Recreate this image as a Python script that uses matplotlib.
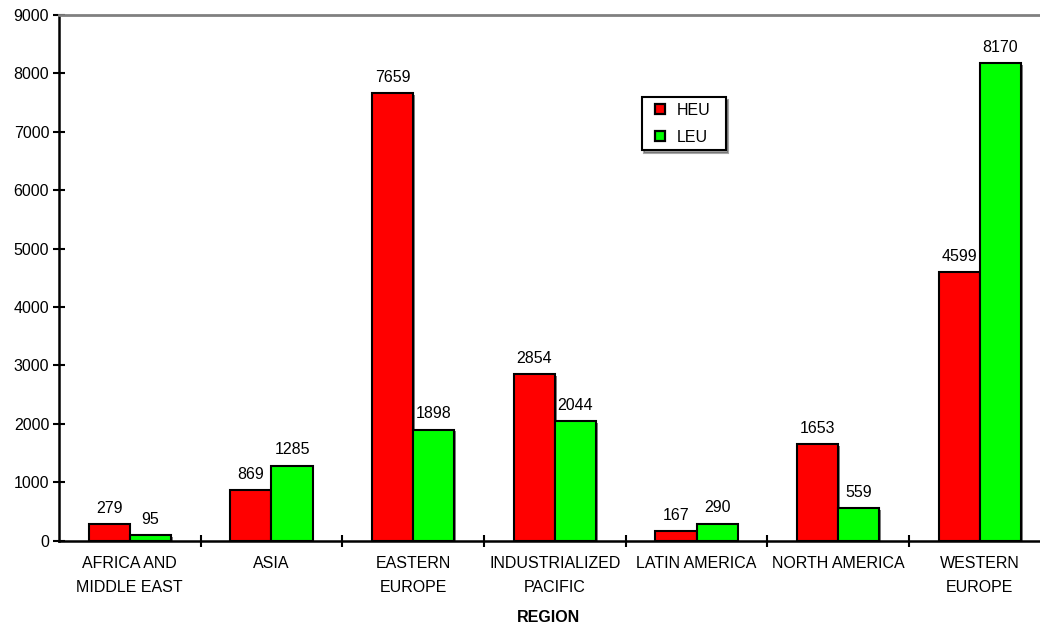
import matplotlib
matplotlib.use("Agg")
import matplotlib.pyplot as plt
import matplotlib.patheffects as pe
from matplotlib.ticker import FixedLocator
from matplotlib.lines import Line2D
import numpy as np

plt.rcParams['font.family'] = ['Liberation Sans', 'DejaVu Sans']

regions = ['AFRICA AND\nMIDDLE EAST', 'ASIA', 'EASTERN\nEUROPE', 'INDUSTRIALIZED\nPACIFIC',
           'LATIN AMERICA', 'NORTH AMERICA', 'WESTERN\nEUROPE']
heu = [279, 869, 7659, 2854, 167, 1653, 4599]
leu = [95, 1285, 1898, 2044, 290, 559, 8170]

fs = 11.5
red = '#ff0000'
green = '#00ff00'

fig = plt.figure(figsize=(10.4, 6.25), dpi=100)
ax = fig.add_axes([0.0567, 0.1349, 0.9536, 0.8411])

x = np.arange(len(regions))
w = 0.29
shadow = [pe.SimplePatchShadow(offset=(1.2, -1.2), shadow_rgbFace='#808080', alpha=1), pe.Normal()]
b1 = ax.bar(x - w / 2, heu, w, color=red, edgecolor='black', linewidth=1.5)
b2 = ax.bar(x + w / 2, leu, w, color=green, edgecolor='black', linewidth=1.5)
for bars in (b1, b2):
    for b in bars:
        b.set_path_effects(shadow)

for xi, v in zip(x - w / 2, heu):
    ax.annotate(str(v), (xi, v), xytext=(0, 6), textcoords='offset points',
                ha='center', va='bottom', fontsize=fs)
for xi, v in zip(x + w / 2, leu):
    ax.annotate(str(v), (xi, v), xytext=(0, 6), textcoords='offset points',
                ha='center', va='bottom', fontsize=fs)

ax.set_xlim(-0.5, len(regions) - 0.5)
ax.set_ylim(0, 9000)
ax.set_yticks(np.arange(0, 9001, 1000))
ax.set_xticks(x)
ax.set_xticklabels(regions, fontsize=fs, linespacing=1.75)
ax.xaxis.set_minor_locator(FixedLocator(np.arange(0.5, len(regions) - 0.5, 1)))
ax.tick_params(axis='x', which='major', length=0, pad=11)
ax.tick_params(axis='x', which='minor', length=9, width=1.5, direction='inout')
ax.tick_params(axis='y', length=8, width=1.5, direction='inout', labelsize=fs, pad=3)

for s in ('left', 'bottom'):
    ax.spines[s].set_linewidth(1.8)
ax.spines['right'].set_visible(False)
ax.spines['top'].set_color('#808080')
ax.spines['top'].set_linewidth(2)

fig.text(548 / 1040, 1 - 617 / 625, 'REGION', ha='center', va='center', fontsize=fs, fontweight='bold')

handles = [Line2D([], [], ls='none', marker='s', ms=6.5, mfc=red, mec='black', mew=1.6),
           Line2D([], [], ls='none', marker='s', ms=6.5, mfc=green, mec='black', mew=1.6)]
leg = ax.legend(handles, ['HEU', 'LEU'], loc='upper left',
                bbox_to_anchor=(641.7 / 1040, 1 - 151 / 625, 84 / 1040, 54 / 625),
                mode='expand', bbox_transform=fig.transFigure, fontsize=fs,
                handlelength=1.6, handletextpad=0.25, borderpad=0.35, labelspacing=0.75,
                fancybox=False, shadow=True, framealpha=1, borderaxespad=0)
leg.get_frame().set_edgecolor('black')
leg.get_frame().set_linewidth(1.5)

fig.savefig('out.png', dpi=100)
